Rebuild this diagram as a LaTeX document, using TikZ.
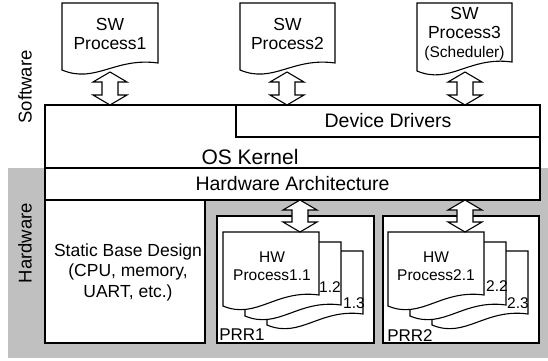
\documentclass[tikz,border=0pt]{standalone}
\usepackage{fontspec}
\setmainfont{Liberation Sans}
\usetikzlibrary{calc}
\definecolor{bggray}{RGB}{192,192,192}
\newcommand{\docpath}[5]{%
  \filldraw[docshape] (#1,#2) -- ({#1+#3},#2) -- ({#1+#3},{#2+#5})
    .. controls ({#1+0.55*#3},{#2+#5-6}) and ({#1+0.35*#3},{#2+#4+14}) .. (#1,{#2+#4}) -- cycle;}
\newcommand{\dblarrow}[2]{%
  \filldraw[blockarr] let \p1=(#1), \p2=(#2) in
    (\x1,\y1) -- (\x1+17pt,\y1-10pt) -- (\x1+8pt,\y1-10pt) -- (\x1+8pt,\y2+10pt)
    -- (\x1+17pt,\y2+10pt) -- (\x1,\y2) -- (\x1-17pt,\y2+10pt) -- (\x1-8pt,\y2+10pt)
    -- (\x1-8pt,\y1-10pt) -- (\x1-17pt,\y1-10pt) -- cycle;}
\begin{document}
\begin{tikzpicture}[x=1pt,y=-1pt,
  box/.style={draw, line width=1.1pt, fill=white, inner sep=0pt, outer sep=0pt, anchor=north west},
  docshape/.style={draw=black, fill=white, line width=1.1pt},
  blockarr/.style={draw=black, fill=white, line width=1.1pt, line join=miter},
  lbl/.style={inner sep=0pt, align=center, font=\fontsize{19.5}{22}\selectfont},
  sml/.style={inner sep=0pt, align=center, font=\fontsize{15.5}{18}\selectfont},
  mid/.style={inner sep=0pt, align=center, font=\fontsize{17.5}{19.5}\selectfont}]
\useasboundingbox (0,0) rectangle (548,360);
\fill[bggray] (8,168) rectangle (548,358);
% boxes
\node[box, minimum width=495pt, minimum height=63pt] (kernel) at (45,105) {};
\node[box, minimum width=495pt, minimum height=32pt] (hwarch) at (45,168) {};
\node[box, minimum width=304pt, minimum height=32pt] (drivers) at (236,105) {};
\node[box, minimum width=160pt, minimum height=143pt] (static) at (45,200) {};
\node[box, minimum width=157pt, minimum height=127pt] (prr1) at (217,216) {};
\node[box, minimum width=156pt, minimum height=127pt] (prr2) at (383,216) {};
% box texts
\node[lbl, font=\fontsize{21}{24}\selectfont] (oskt) at (250,157) {OS Kernel};
\node[lbl] (drvt) at (drivers.center) {Device Drivers};
\node[lbl] (hwat) at (hwarch.center) {Hardware Architecture};
\node[mid, font=\fontsize{17.5}{20.5}\selectfont] (statt) at (128,272) {Static Base Design\\(CPU, memory,\\UART, etc.)};
\node[lbl, font=\fontsize{18.5}{20}\selectfont, rotate=90] (swl) at (25,87) {Software};
\node[lbl, font=\fontsize{18.5}{20}\selectfont, rotate=90] (hwl) at (25,243) {Hardware};
% SW documents
\docpath{62}{3}{96}{67}{60}
\docpath{240}{3}{95}{67}{60}
\docpath{417}{3}{95}{68}{59}
\node[mid] (sw1) at (110,34) {SW\\Process1};
\node[mid] (sw2) at (287.5,34) {SW\\Process2};
\node[mid] (sw3) at (464.5,23) {SW\\Process3};
\node[sml] (sw3s) at (464.5,53) {(Scheduler)};
% HW documents
\docpath{267}{251}{96}{74}{63}
\docpath{245}{242}{96}{74}{63}
\docpath{223}{232}{96}{74}{63}
\docpath{432}{251}{96}{74}{63}
\docpath{410}{242}{96}{74}{63}
\docpath{388}{232}{96}{74}{63}
\node[sml] (hw11) at (272,266) {HW\\Process1.1};
\node[sml] (hw21) at (436,266) {HW\\Process2.1};
\node[sml] (l12) at (330,287) {1.2};
\node[sml] (l13) at (354,303) {1.3};
\node[sml] (l22) at (497,286) {2.2};
\node[sml] (l23) at (518,303) {2.3};
\node[mid, font=\fontsize{17}{19}\selectfont] (p1l) at (242,335) {PRR1};
\node[mid, font=\fontsize{17}{19}\selectfont] (p2l) at (410,336) {PRR2};
% arrows
\coordinate (a1) at (110,72);
\coordinate (a2) at (287,72);
\coordinate (a3) at (465,72);
\coordinate (a4) at (300,232);
\coordinate (a5) at (465,232);
\dblarrow{a1}{a1 |- kernel.north}
\dblarrow{a2}{a2 |- drivers.north}
\dblarrow{a3}{a3 |- drivers.north}
\dblarrow{a4 |- hwarch.south}{a4}
\dblarrow{a5 |- hwarch.south}{a5}
\end{tikzpicture}
\end{document}
